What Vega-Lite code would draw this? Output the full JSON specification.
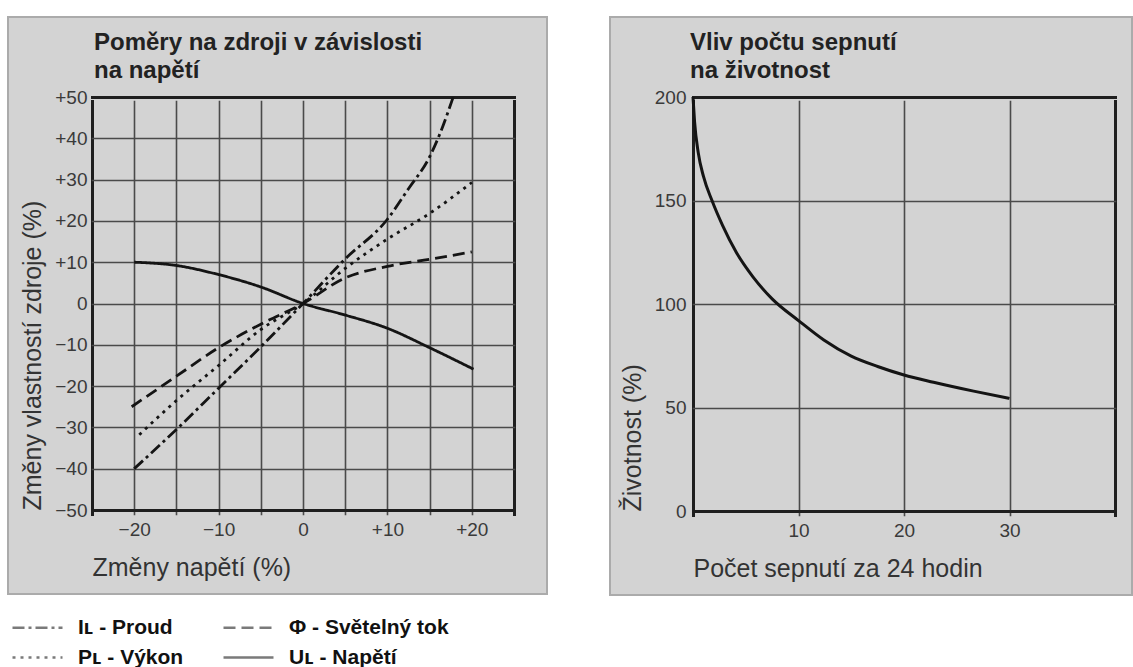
{
  "$schema": "https://vega.github.io/schema/vega-lite/v6.json",
  "background": "#ffffff",
  "padding": {"left": 7, "top": 16, "right": 0, "bottom": 0},
  "spacing": 61,
  "config": {
    "font": "Liberation Sans, Arial, sans-serif",
    "view": {"fill": "#d3d3d3", "stroke": "#ababab", "strokeWidth": 2},
    "axis": {
      "ticks": false,
      "tickSize": 0,
      "domain": false,
      "grid": true,
      "gridCap": "square",
      "labelFontSize": 19,
      "labelColor": "#3a3a3a",
      "titleFontSize": 25,
      "titleFontWeight": "normal",
      "titleColor": "#333333"
    },
    "title": {
      "anchor": "start",
      "frame": "group",
      "baseline": "alphabetic",
      "lineHeight": 28,
      "fontSize": 24,
      "fontWeight": "bold",
      "color": "#222222",
      "offset": -32,
      "dy": 34
    }
  },
  "datasets": {
    "napeti": [
      {"velicina": "Iʟ - Proud", "napeti": -20, "zmena": -40},
      {"velicina": "Iʟ - Proud", "napeti": -15, "zmena": -30.5},
      {"velicina": "Iʟ - Proud", "napeti": -10, "zmena": -20.5},
      {"velicina": "Iʟ - Proud", "napeti": -5, "zmena": -10.5},
      {"velicina": "Iʟ - Proud", "napeti": 0, "zmena": 0},
      {"velicina": "Iʟ - Proud", "napeti": 5, "zmena": 10.8},
      {"velicina": "Iʟ - Proud", "napeti": 10, "zmena": 20.4},
      {"velicina": "Iʟ - Proud", "napeti": 12.5, "zmena": 27.8},
      {"velicina": "Iʟ - Proud", "napeti": 15, "zmena": 35.5},
      {"velicina": "Iʟ - Proud", "napeti": 16.3, "zmena": 41.5},
      {"velicina": "Iʟ - Proud", "napeti": 17.8, "zmena": 50},
      {"velicina": "Pʟ - Výkon", "napeti": -19.4, "zmena": -31.8},
      {"velicina": "Pʟ - Výkon", "napeti": -15, "zmena": -23.5},
      {"velicina": "Pʟ - Výkon", "napeti": -10, "zmena": -15},
      {"velicina": "Pʟ - Výkon", "napeti": -5, "zmena": -6.3},
      {"velicina": "Pʟ - Výkon", "napeti": 0, "zmena": 0},
      {"velicina": "Pʟ - Výkon", "napeti": 5, "zmena": 8.5},
      {"velicina": "Pʟ - Výkon", "napeti": 10, "zmena": 15.6},
      {"velicina": "Pʟ - Výkon", "napeti": 15, "zmena": 21.8},
      {"velicina": "Pʟ - Výkon", "napeti": 20, "zmena": 29.3},
      {"velicina": "Φ - Světelný tok", "napeti": -20.3, "zmena": -25},
      {"velicina": "Φ - Světelný tok", "napeti": -15, "zmena": -17.6},
      {"velicina": "Φ - Světelný tok", "napeti": -10, "zmena": -10.7},
      {"velicina": "Φ - Světelný tok", "napeti": -5, "zmena": -5},
      {"velicina": "Φ - Světelný tok", "napeti": 0, "zmena": 0},
      {"velicina": "Φ - Světelný tok", "napeti": 5, "zmena": 6.2},
      {"velicina": "Φ - Světelný tok", "napeti": 10, "zmena": 9},
      {"velicina": "Φ - Světelný tok", "napeti": 15, "zmena": 10.7},
      {"velicina": "Φ - Světelný tok", "napeti": 20, "zmena": 12.5},
      {"velicina": "Uʟ - Napětí", "napeti": -20, "zmena": 10},
      {"velicina": "Uʟ - Napětí", "napeti": -15, "zmena": 9.2},
      {"velicina": "Uʟ - Napětí", "napeti": -10, "zmena": 7},
      {"velicina": "Uʟ - Napětí", "napeti": -5, "zmena": 4},
      {"velicina": "Uʟ - Napětí", "napeti": 0, "zmena": 0},
      {"velicina": "Uʟ - Napětí", "napeti": 5, "zmena": -2.8},
      {"velicina": "Uʟ - Napětí", "napeti": 10, "zmena": -6},
      {"velicina": "Uʟ - Napětí", "napeti": 15, "zmena": -10.7},
      {"velicina": "Uʟ - Napětí", "napeti": 20.2, "zmena": -15.9}
    ],
    "sepnuti": [
      {"pocet": 0, "zivotnost": 200},
      {"pocet": 0.15, "zivotnost": 188},
      {"pocet": 0.5, "zivotnost": 173},
      {"pocet": 1.0, "zivotnost": 161.5},
      {"pocet": 1.8, "zivotnost": 150},
      {"pocet": 2.8, "zivotnost": 138},
      {"pocet": 4.1, "zivotnost": 125},
      {"pocet": 5.7, "zivotnost": 113},
      {"pocet": 7.5, "zivotnost": 102.5},
      {"pocet": 10, "zivotnost": 92},
      {"pocet": 12.4, "zivotnost": 82.6},
      {"pocet": 15, "zivotnost": 74.8},
      {"pocet": 17.5, "zivotnost": 69.8},
      {"pocet": 20, "zivotnost": 65.7},
      {"pocet": 22.8, "zivotnost": 62.2},
      {"pocet": 26.6, "zivotnost": 57.9},
      {"pocet": 30, "zivotnost": 54.4}
    ]
  },
  "hconcat": [
    {
      "width": 539,
      "height": 577,
      "title": {"text": ["Poměry na zdroji v závislosti", "na napětí"], "dx": 86},
      "data": {"name": "napeti"},
      "mark": {"type": "line", "interpolate": "monotone", "stroke": "#141414", "strokeWidth": 2.8},
      "encoding": {
        "x": {
          "field": "napeti",
          "type": "quantitative",
          "scale": {"domain": [-25, 25], "range": [84, 506], "nice": false, "zero": false},
          "axis": {
            "title": "Změny napětí (%)",
            "titleAnchor": "start",
            "offset": -84,
            "values": [-25, -20, -15, -10, -5, 0, 5, 10, 15, 20, 25],
            "labelExpr": "(datum.value % 10 == 0 && abs(datum.value) < 25) ? (datum.value > 0 ? '+' + datum.label : datum.label) : ''",
            "labelPadding": 10,
            "titlePadding": 16,
            "gridWidth": {"condition": {"test": "abs(datum.value) == 25", "value": 3}, "value": 1.6},
            "gridColor": {"condition": {"test": "abs(datum.value) == 25", "value": "#1e1e1e"}, "value": "#4a4a4a"}
          }
        },
        "y": {
          "field": "zmena",
          "type": "quantitative",
          "scale": {"domain": [-50, 50], "range": [493, 80], "nice": false, "zero": false},
          "axis": {
            "title": "Změny vlastností zdroje (%)",
            "titleAnchor": "start",
            "offset": -84,
            "values": [-50, -40, -30, -20, -10, 0, 10, 20, 30, 40, 50],
            "labelExpr": "datum.value > 0 ? '+' + datum.label : datum.label",
            "labelPadding": 5,
            "titlePadding": 9,
            "gridWidth": {"condition": {"test": "abs(datum.value) == 50", "value": 3}, "value": 1.6},
            "gridColor": {"condition": {"test": "abs(datum.value) == 50", "value": "#1e1e1e"}, "value": "#4a4a4a"}
          }
        },
        "strokeDash": {
          "field": "velicina",
          "type": "nominal",
          "scale": {
            "domain": ["Iʟ - Proud", "Pʟ - Výkon", "Φ - Světelný tok", "Uʟ - Napětí"],
            "range": [[12, 4, 3, 4], [3, 5], [12, 6], [1, 0]]
          },
          "legend": {
            "orient": "none",
            "legendX": 18,
            "legendY": 599,
            "columns": 2,
            "title": null,
            "symbolType": "M-2.5,0L2.5,0",
            "symbolSize": 400,
            "symbolStrokeWidth": 2.5,
            "symbolStrokeColor": "#7a7a7a",
            "symbolFillColor": "transparent",
            "labelFontSize": 21,
            "labelFontWeight": "bold",
            "labelColor": "#111111",
            "labelOffset": 29,
            "labelLimit": 400,
            "columnPadding": 34,
            "rowPadding": 8,
            "padding": 0
          }
        }
      }
    },
    {
      "width": 522,
      "height": 578,
      "title": {"text": ["Vliv počtu sepnutí", "na životnost"], "dx": 80},
      "data": {"name": "sepnuti"},
      "mark": {"type": "line", "interpolate": "monotone", "stroke": "#141414", "strokeWidth": 3},
      "encoding": {
        "x": {
          "field": "pocet",
          "type": "quantitative",
          "scale": {"domain": [0, 40], "range": [83, 505], "nice": false, "zero": false},
          "axis": {
            "title": "Počet sepnutí za 24 hodin",
            "titleAnchor": "start",
            "offset": -84,
            "values": [0, 10, 20, 30, 40],
            "labelExpr": "(datum.value == 0 || datum.value == 40) ? '' : datum.label",
            "labelPadding": 10,
            "titlePadding": 16,
            "gridWidth": {"condition": {"test": "datum.value == 0 || datum.value == 40", "value": 3}, "value": 1.6},
            "gridColor": {"condition": {"test": "datum.value == 0 || datum.value == 40", "value": "#1e1e1e"}, "value": "#4a4a4a"}
          }
        },
        "y": {
          "field": "zivotnost",
          "type": "quantitative",
          "scale": {"domain": [0, 200], "range": [494, 80], "nice": false, "zero": false},
          "axis": {
            "title": "Životnost (%)",
            "titleAnchor": "start",
            "offset": -83,
            "values": [0, 50, 100, 150, 200],
            "labelPadding": 7,
            "titlePadding": 9,
            "gridWidth": {"condition": {"test": "datum.value == 0 || datum.value == 200", "value": 3}, "value": 1.6},
            "gridColor": {"condition": {"test": "datum.value == 0 || datum.value == 200", "value": "#1e1e1e"}, "value": "#4a4a4a"}
          }
        }
      }
    }
  ]
}
